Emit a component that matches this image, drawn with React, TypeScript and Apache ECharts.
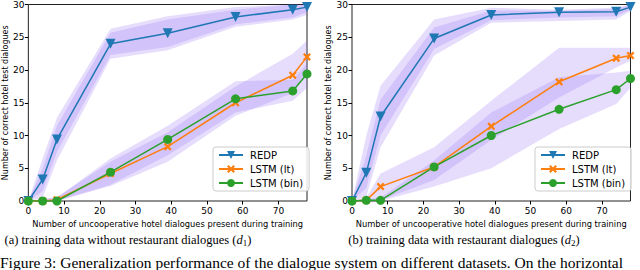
import React, { useEffect, useRef } from "react";
import * as echarts from "echarts";

// x positions (number of uncooperative hotel dialogues)
const X = [0, 4, 8, 23, 39, 58, 74, 78];
const xTicks = [0, 10, 20, 30, 40, 50, 60, 70];

// (a) without restaurant dialogues
const redpA = [0, 3.3, 9.4, 24.0, 25.6, 28.1, 29.2, 29.6];
const lstmLtA = [0, 0, 0.2, 4.2, 8.3, 15.0, 19.2, 22.0];
const lstmBinA = [0, 0, 0, 4.4, 9.4, 15.6, 16.8, 19.4];
const redpALo = [0, 0.5, 6.2, 21.7, 23.0, 26.6, 27.7, 28.4];
const redpAHi = [0, 6.5, 12.7, 26.3, 28.2, 29.6, 30, 30];
const redpAInLo = [0, 1.5, 7.5, 22.3, 23.5, 27.0, 28.0, 28.8];
const redpAInHi = [0, 5.0, 11.5, 25.7, 27.7, 29.2, 30, 30];
const ltALo = [0, 0, 0, 2.3, 6.0, 13.0, 16.5, 19.5];
const ltAHi = [0, 0.3, 0.6, 6.0, 10.5, 17.5, 22.5, 24.5];
const binALo = [0, 0, 0, 2.5, 7.0, 13.5, 15.3, 17.3];
const binAHi = [0, 0.3, 0.5, 6.5, 11.5, 18.3, 18.5, 21.0];

// (b) with restaurant dialogues
const redpB = [0, 4.3, 12.9, 24.8, 28.4, 28.8, 28.9, 29.6];
const lstmLtB = [0, 0.1, 2.2, 5.2, 11.4, 18.2, 21.8, 22.2];
const lstmBinB = [0, 0.1, 0.1, 5.2, 10.0, 14.0, 17.0, 18.7];
const redpBLo = [0, 0.6, 8.2, 22.2, 27.2, 27.5, 27.7, 29.0];
const redpBHi = [0, 10.0, 17.6, 27.7, 29.5, 29.2, 29.5, 30];
const redpBInLo = [0, 2.0, 10.0, 23.2, 27.6, 28.0, 28.2, 29.2];
const redpBInHi = [0, 7.0, 15.5, 26.5, 29.1, 29.0, 29.3, 30];
const ltBLo = [0, 0, 0.1, 3.2, 9.3, 15.8, 20.4, 21.4];
const ltBHi = [0, 0.5, 4.2, 8.2, 15.3, 23.4, 23.4, 23.4];
const binBLo = [0, 0, 0, 2.2, 5.0, 11.0, 14.8, 17.3];
const binBHi = [0, 0.3, 0.5, 6.2, 13.5, 18.9, 19.6, 19.9];

const seriesNames = ["REDP", "LSTM (lt)", "LSTM (bin)"];
const colors = ["#1f77b4", "#ff7f0e", "#2ca02c"];
const xMarker =
  "path://M0,2 L2,0 L5,3 L8,0 L10,2 L7,5 L10,8 L8,10 L5,7 L2,10 L0,8 L3,5 Z";

const FONT = "DejaVu Sans";
const BAND = "rgba(145,108,245,0.23)";

function band(idx: number, lo: number[], hi: number[]) {
  return {
    type: "custom",
    xAxisIndex: idx,
    yAxisIndex: idx,
    silent: true,
    z: 1,
    clip: true,
    data: [[0, 0]],
    renderItem: (_p: any, api: any) => {
      const pts: number[][] = [];
      for (let i = 0; i < X.length; i++) pts.push(api.coord([X[i], hi[i]]));
      for (let i = X.length - 1; i >= 0; i--) pts.push(api.coord([X[i], lo[i]]));
      return { type: "polygon", shape: { points: pts }, style: { fill: BAND } };
    },
  };
}

function line(idx: number, k: number, ys: number[]) {
  const sym = k === 0 ? "triangle" : k === 1 ? xMarker : "circle";
  return {
    type: "line",
    name: seriesNames[k],
    xAxisIndex: idx,
    yAxisIndex: idx,
    data: X.map((x, i) => [x, ys[i]]),
    symbol: sym,
    symbolSize: k === 0 ? 10 : k === 1 ? 8 : 9,
    symbolRotate: k === 0 ? 180 : 0,
    showAllSymbol: true,
    z: 3,
    clip: true,
    color: colors[k],
    itemStyle: { color: colors[k] },
    lineStyle: { width: 1.5, color: colors[k] },
  };
}

function xAxis(idx: number) {
  return {
    type: "value",
    gridIndex: idx,
    min: 0,
    max: 78,
    interval: 10,
    splitLine: { show: false },
    axisLine: { show: false },
    axisTick: { show: true, length: 3.5, lineStyle: { color: "#000" }, customValues: xTicks },
    axisLabel: { fontFamily: FONT, fontSize: 9, color: "#000", margin: 5, customValues: xTicks },
    name: "Number of uncooperative hotel dialogues present during training",
    nameLocation: "middle",
    nameGap: 14,
    nameTextStyle: { fontFamily: FONT, fontSize: 8.3, color: "#000" },
  };
}

function yAxis(idx: number, gap: number) {
  return {
    type: "value",
    gridIndex: idx,
    min: 0,
    max: 30,
    interval: 5,
    splitLine: { show: false },
    axisLine: { show: false },
    axisTick: { show: true, length: 3.5, lineStyle: { color: "#000" } },
    axisLabel: { fontFamily: FONT, fontSize: 9, color: "#000", margin: 4 },
    name: "Number of correct hotel test dialogues",
    nameLocation: "middle",
    nameGap: gap,
    nameTextStyle: { fontFamily: FONT, fontSize: 8, color: "#000" },
  };
}

function legend(left: number) {
  return {
    data: seriesNames,
    orient: "vertical",
    left,
    top: 147,
    padding: [3, 6, 3, 5],
    itemGap: 4,
    itemWidth: 24,
    itemHeight: 10,
    borderColor: "#cccccc",
    borderWidth: 1,
    borderRadius: 3,
    backgroundColor: "rgba(255,255,255,0.85)",
    textStyle: { fontFamily: FONT, fontSize: 10, color: "#000", padding: [0, 0, 0, 2] },
    selectedMode: false,
  };
}

const capRich = {
  i: { fontFamily: "Liberation Serif", fontSize: 12.5, fontStyle: "italic", color: "#000" },
  s: { fontFamily: "Liberation Serif", fontSize: 9, color: "#000", padding: [6, 0, 0, 0] },
};

export default function App() {
  const ref = useRef<HTMLDivElement>(null);
  useEffect(() => {
    if (!ref.current) return;
    const chart = echarts.init(ref.current, undefined, { renderer: "svg" });
    chart.setOption({
      animation: false,
      backgroundColor: "#fff",
      grid: [
        { left: 28, top: 3, width: 279, height: 198, show: true, borderColor: "#222", borderWidth: 1, backgroundColor: "transparent" },
        { left: 352, top: 3, width: 278.5, height: 198, show: true, borderColor: "#222", borderWidth: 1, backgroundColor: "transparent" },
      ],
      xAxis: [xAxis(0), xAxis(1)],
      yAxis: [yAxis(0, 17), yAxis(1, 18)],
      legend: [legend(213), legend(535)],
      series: [
        band(0, redpALo, redpAHi),
        band(0, redpAInLo, redpAInHi),
        band(0, ltALo, ltAHi),
        band(0, binALo, binAHi),
        line(0, 0, redpA),
        line(0, 1, lstmLtA),
        line(0, 2, lstmBinA),
        band(1, redpBLo, redpBHi),
        band(1, redpBInLo, redpBInHi),
        band(1, ltBLo, ltBHi),
        band(1, binBLo, binBHi),
        line(1, 0, redpB),
        line(1, 1, lstmLtB),
        line(1, 2, lstmBinB),
      ],
      graphic: [
        {
          type: "text",
          x: 128,
          y: 240,
          style: {
            text: "(a) training data without restaurant dialogues ({i|d}{s|1})",
            rich: capRich,
            fontFamily: "Liberation Serif",
            fontSize: 12.5,
            fill: "#000",
            align: "center",
            verticalAlign: "middle",
          },
        },
        {
          type: "text",
          x: 464,
          y: 240,
          style: {
            text: "(b) training data with restaurant dialogues ({i|d}{s|2})",
            rich: capRich,
            fontFamily: "Liberation Serif",
            fontSize: 12.5,
            fill: "#000",
            align: "center",
            verticalAlign: "middle",
          },
        },
        {
          type: "text",
          x: 0,
          y: 270,
          style: {
            text: "Figure 3: Generalization performance of the dialogue system on different datasets. On the horizontal",
            fontFamily: "Liberation Serif",
            fontSize: 15.5,
            fill: "#000",
            align: "left",
            verticalAlign: "bottom",
          },
        },
      ],
    });
    return () => chart.dispose();
  }, []);
  return (
    <div
      ref={ref}
      style={{ position: "fixed", left: 0, top: 0, width: 640, height: 270, overflow: "hidden" }}
    />
  );
}
